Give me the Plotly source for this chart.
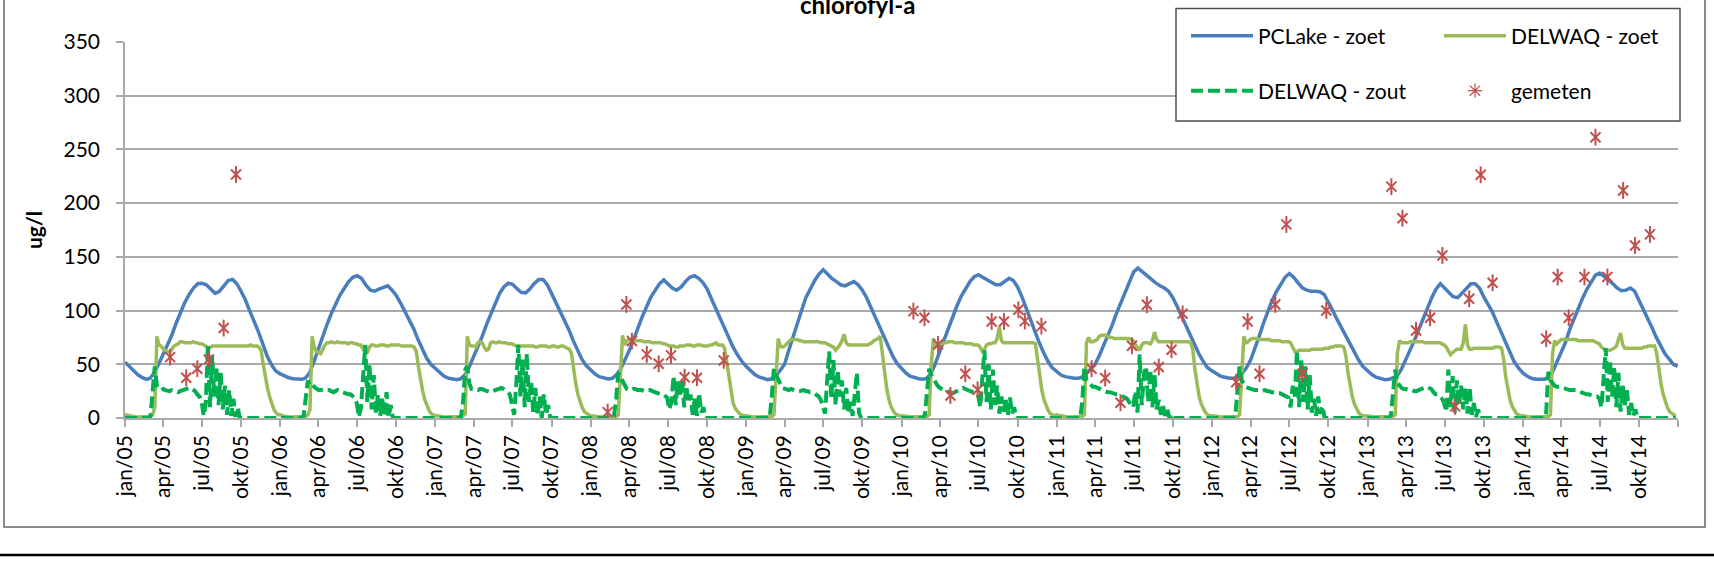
import datetime as dt
import plotly.graph_objects as go

# ---------------------------------------------------------------------------
# PCLake - zoet: chlorofyl-a (ug/l) on the 1st, 11th and 21st of every month
# (the 2014 list ends with an extra value for 31 December)
# ---------------------------------------------------------------------------
pclake_zoet_2005 = [52, 48, 44, 40, 37.5, 36, 37, 42, 50, 59, 67, 77, 88, 98, 107, 115, 121, 125,
                    125.5, 124, 120, 116, 118, 123, 128, 129, 125, 118, 110, 100, 90, 80, 69, 58, 50, 44]
pclake_zoet_2006 = [41, 39, 37.5, 36.5, 36, 36, 37, 42, 52, 65, 76, 87, 97, 106, 114, 121, 127, 131,
                    132.5, 130, 124, 119, 118, 120, 122, 123, 119, 114, 107, 99, 91, 83, 73, 64, 56, 50]
pclake_zoet_2007 = [46, 42, 39, 37, 36, 35.7, 36.5, 40, 47, 57, 66, 76, 87, 97, 106, 116, 122, 125.5,
                    124.5, 121, 117, 116.5, 120, 125, 129, 129, 124, 116, 108, 100, 91, 82, 72, 63, 55, 49]
pclake_zoet_2008 = [45, 41, 38.5, 37, 36.3, 37, 40, 45, 53, 63, 73, 84, 94, 103, 112, 119, 125, 128.5,
                    125, 121, 119, 122, 127, 131, 132.5, 130, 126, 120, 111, 102, 92, 83, 74, 66, 59, 53]
pclake_zoet_2009 = [48, 44, 40.5, 38, 36.5, 35.7, 36.5, 39, 44, 50, 63, 76, 88, 100, 112, 121, 128, 134,
                    138, 134, 130, 127, 124, 123, 125, 127, 124, 119, 112, 103, 94, 85, 76, 67, 58, 51]
pclake_zoet_2010 = [46, 42, 39, 37.5, 36.5, 36, 37, 41, 50, 62, 73, 84, 95, 104, 113, 121, 127, 131.5,
                    133.4, 131, 129, 126, 124, 124, 127, 130, 128, 122, 113, 102, 91, 81, 70, 61, 53, 47]
pclake_zoet_2011 = [43, 40, 38.5, 37.5, 37, 37, 38, 41, 45, 50, 58, 67, 75, 86, 97, 108, 118, 128,
                    136, 139.5, 136, 132, 129, 126, 123, 121, 118, 112, 104, 95, 86, 77, 68, 60, 53, 47]
pclake_zoet_2012 = [44, 41, 39, 38, 37, 37, 38, 41, 46, 54, 64, 76, 88, 99, 109, 118, 125, 131,
                    134.5, 131, 126, 121, 119, 118, 118, 117.5, 115, 108, 100, 92, 84, 76, 68, 61, 54, 48]
pclake_zoet_2013 = [44, 40.5, 38, 36.5, 35.7, 36, 37, 39, 45, 54, 62, 72, 82, 92, 101, 112, 120, 125,
                    121, 117, 113, 112, 116, 121, 125, 125, 121, 113, 106, 99, 89, 80, 70, 61, 53, 47]
pclake_zoet_2014 = [42, 39, 37, 36, 35.7, 36, 38, 42, 51, 60, 70, 82, 92, 102, 111, 120, 127, 133,
                    135, 132, 128.7, 125, 121, 118.5, 119, 121, 118, 110, 102, 93, 84, 75, 67, 60, 55, 50, 48]

# ---------------------------------------------------------------------------
# DELWAQ - zoet: values every 5 days from 1 January (73 per year)
# ---------------------------------------------------------------------------
delwaq_zoet_2005 = [3, 2.5, 2, 1.5, 1.5, 1, 1, 1, 1, 1, 1, 1, 1.5, 3,
                    10, 76, 68, 67,
                    64, 63, 62, 61, 64, 67,
                    68, 69, 71, 71, 70, 70, 70,
                    70, 71, 70, 70, 69, 69,
                    68, 67, 64, 66, 67, 67,
                    67, 67, 67, 67, 67, 67,
                    67, 67, 67, 67, 67, 67,
                    67, 67, 67, 67, 68, 67,
                    67, 67, 66, 63, 50, 38,
                    28, 20, 13, 8, 5, 3]
delwaq_zoet_2006 = [3, 2, 1.5, 1.5, 1, 1, 1, 1, 1, 1, 1, 1, 1.5, 3,
                    8, 76, 66, 62,
                    61, 60, 64, 68, 70, 70,
                    71, 70, 70, 71, 70, 70, 70,
                    70, 69, 70, 70, 69, 69,
                    68, 68, 64, 60, 61, 66,
                    68, 68, 67, 67, 68, 68,
                    68, 67, 67, 68, 68, 68,
                    68, 68, 67, 67, 67, 67,
                    67, 67, 66, 62, 48, 35,
                    25, 17, 11, 7, 4, 3]
delwaq_zoet_2007 = [2, 2, 1.5, 1.5, 1, 1, 1, 1, 1, 1, 1, 1, 1.5, 2, 4,
                    76, 68, 67,
                    67, 66, 70, 71, 70, 66,
                    63, 64, 70, 71, 70, 70, 71,
                    70, 70, 70, 69, 69, 69,
                    68, 67, 67, 67, 67, 67,
                    67, 67, 67, 67, 66, 66,
                    67, 67, 67, 67, 66, 66,
                    67, 67, 66, 66, 67, 67,
                    66, 65, 64, 60, 45, 32,
                    22, 15, 10, 6, 4, 3]
delwaq_zoet_2008 = [2, 2, 1.5, 1.5, 1, 1, 1, 1, 1, 1, 1, 1, 1.5, 3,
                    35, 77, 68, 72,
                    73, 73, 73, 72, 72, 72,
                    72, 71, 71, 71, 71, 70, 70,
                    70, 70, 70, 69, 69, 68,
                    67, 67, 67, 66, 66, 67,
                    67, 67, 68, 68, 68, 67,
                    67, 68, 68, 68, 67, 67,
                    67, 68, 68, 69, 70, 68,
                    68, 68, 65, 52, 35, 22,
                    14, 9, 6, 4, 3, 2]
delwaq_zoet_2009 = [2, 1.5, 1.5, 1, 1, 1, 1, 1, 1, 1, 1, 1, 1.5, 3,
                    35, 74, 67, 66,
                    67, 69, 71, 73, 73, 73,
                    73, 72, 72, 71, 71, 71, 71,
                    71, 71, 71, 71, 70, 70,
                    70, 69, 68, 67, 66, 63,
                    65, 68, 72, 78, 70, 68,
                    68, 68, 68, 68, 68, 68,
                    68, 68, 68, 69, 70, 72,
                    73, 74, 76, 60, 40, 28,
                    18, 11, 7, 4, 3, 2]
delwaq_zoet_2010 = [2, 2, 1.5, 1.5, 1, 1, 1, 1, 1, 1, 1, 1, 1.5, 3,
                    50, 74, 66, 67,
                    68, 69, 70, 70, 71, 71,
                    71, 70, 70, 70, 70, 70, 69,
                    69, 69, 69, 68, 68, 68,
                    66, 62, 64, 68, 69, 69,
                    70, 70, 74, 85, 72, 70,
                    70, 70, 70, 70, 70, 70,
                    70, 70, 70, 70, 70, 70,
                    70, 70, 69, 55, 38, 26,
                    17, 11, 7, 4, 3, 2]
delwaq_zoet_2011 = [3, 2, 2, 1.5, 1, 1, 1, 1, 1, 1, 1, 1, 1.5, 3,
                    70, 75, 71, 71,
                    72, 73, 76, 77, 77, 77,
                    76, 75, 75, 74, 74, 74, 74,
                    74, 74, 74, 74, 73, 72,
                    68, 65, 63, 68, 70, 70,
                    70, 69, 72, 80, 73, 71,
                    71, 71, 71, 71, 71, 71,
                    71, 71, 71, 71, 71, 71,
                    71, 71, 70, 64, 45, 30,
                    20, 13, 8, 5, 3, 2]
delwaq_zoet_2012 = [2, 2, 1.5, 1.5, 1, 1, 1, 1, 1, 1, 1, 1, 1.5, 3,
                    45, 76, 70, 71,
                    73, 74, 74, 74, 73, 73,
                    73, 73, 73, 73, 72, 72, 72,
                    72, 72, 71, 71, 71, 71,
                    70, 66, 62, 62, 63, 63,
                    63, 63, 63, 63, 64, 64,
                    64, 64, 64, 64, 65, 65,
                    65, 66, 66, 67, 67, 67,
                    67, 66, 58, 42, 30, 20,
                    13, 8, 5, 3, 2, 2]
delwaq_zoet_2013 = [2, 1.5, 1.5, 1, 1, 1, 1, 1, 1, 1, 1, 1, 1.5, 3,
                    60, 72, 70, 70,
                    70, 70, 71, 71, 71, 71,
                    71, 71, 71, 70, 70, 70, 70,
                    70, 70, 70, 70, 69, 68,
                    66, 62, 59, 61, 63, 64,
                    64, 64, 70, 87, 68, 64,
                    64, 65, 65, 65, 65, 65,
                    65, 65, 65, 65, 65, 66,
                    66, 66, 65, 55, 38, 26,
                    17, 11, 7, 4, 3, 2]
delwaq_zoet_2014 = [2, 1.5, 1.5, 1, 1, 1, 1, 1, 1, 1, 1, 1, 1.5, 3,
                    60, 72, 69, 71,
                    73, 73, 73, 73, 73, 73,
                    73, 73, 72, 72, 72, 72, 72,
                    72, 72, 72, 71, 70, 69,
                    66, 64, 63, 63, 63, 64,
                    65, 67, 72, 79, 68, 65,
                    65, 65, 65, 65, 65, 65,
                    65, 65, 66, 66, 67, 67,
                    67, 67, 60, 45, 32, 22,
                    15, 10, 6, 4, 3, 2]

# ---------------------------------------------------------------------------
# DELWAQ - zout: values every 5 days from 1 January (73 per year)
# ---------------------------------------------------------------------------
delwaq_zout_2005 = [0, 0, 0, 0, 0, 0, 0, 0, 0, 0, 0, 0,
                    2, 30, 48, 30, 27, 26,
                    27, 26, 25, 25, 26, 25,
                    24, 24, 25, 26, 27, 27, 28,
                    28, 27, 25, 22, 20, 16,
                    2, 14, 68, 10, 58, 20,
                    48, 12, 42, 8, 30, 3,
                    26, 2, 18, 1, 10, 0,
                    0, 0, 0, 0, 0, 0, 0, 0, 0, 0, 0, 0, 0, 0, 0, 0, 0, 0]
delwaq_zout_2006 = [0, 0, 0, 0, 0, 0, 0, 0, 0, 0, 0, 2,
                    20, 35, 30, 31, 29, 27,
                    26, 26, 27, 27, 26, 26,
                    25, 24, 25, 26, 25, 24, 23,
                    23, 22, 22, 21, 19, 14,
                    1, 10, 45, 68, 15, 50,
                    8, 40, 5, 22, 2, 18,
                    3, 24, 1, 12, 0, 0,
                    0, 0, 0, 0, 0, 0, 0, 0, 0, 0, 0, 0, 0, 0, 0, 0, 0, 0]
delwaq_zout_2007 = [0, 0, 0, 0, 0, 0, 0, 0, 0, 0, 0, 0,
                    1, 15, 45, 48, 32, 27,
                    27, 26, 26, 27, 27, 26,
                    25, 24, 24, 25, 26, 27, 28,
                    28, 27, 26, 24, 22, 12,
                    3, 30, 68, 20, 55, 10,
                    60, 15, 35, 5, 28, 2,
                    20, 0, 22, 3, 12, 0,
                    0, 0, 0, 0, 0, 0, 0, 0, 0, 0, 0, 0, 0, 0, 0, 0, 0, 0]
delwaq_zout_2008 = [0, 0, 0, 0, 0, 0, 0, 0, 0, 0, 0, 2,
                    18, 42, 38, 35, 30, 27,
                    26, 26, 27, 27, 26, 26,
                    26, 25, 25, 26, 26, 25, 24,
                    23, 23, 22, 22, 20, 19,
                    8, 15, 39, 12, 34, 20,
                    36, 10, 30, 14, 22, 3,
                    18, 2, 23, 5, 10, 0,
                    0, 0, 0, 0, 0, 0, 0, 0, 0, 0, 0, 0, 0, 0, 0, 0, 0, 0]
delwaq_zout_2009 = [0, 0, 0, 0, 0, 0, 0, 0, 0, 0, 0, 0,
                    20, 46, 40, 35, 32, 28,
                    27, 26, 26, 27, 26, 26,
                    25, 25, 26, 26, 25, 25, 24,
                    24, 23, 22, 20, 17, 12,
                    4, 30, 62, 18, 54, 12,
                    45, 20, 35, 8, 28, 4,
                    15, 2, 26, 42, 5, 0,
                    0, 0, 0, 0, 0, 0, 0, 0, 0, 0, 0, 0, 0, 0, 0, 0, 0, 0]
delwaq_zout_2010 = [0, 0, 0, 0, 0, 0, 0, 0, 0, 0, 0, 3,
                    25, 46, 40, 36, 34, 30,
                    28, 27, 26, 25, 24, 23,
                    23, 24, 25, 26, 27, 28, 27,
                    26, 25, 24, 23, 23, 22,
                    10, 40, 63, 15, 50, 8,
                    45, 12, 30, 4, 20, 6,
                    18, 2, 19, 4, 10, 0,
                    0, 0, 0, 0, 0, 0, 0, 0, 0, 0, 0, 0, 0, 0, 0, 0, 0, 0]
delwaq_zout_2011 = [0, 0, 0, 0, 0, 0, 0, 0, 0, 0, 0, 0,
                    15, 48, 35, 33, 31, 29,
                    29, 28, 28, 27, 26, 25,
                    24, 24, 23, 23, 22, 22, 21,
                    20, 20, 18, 15, 12, 10,
                    25, 5, 59, 12, 40, 48,
                    15, 45, 10, 40, 8, 17,
                    3, 11, 2, 8, 0, 4,
                    0, 0, 0, 0, 0, 0, 0, 0, 0, 0, 0, 0, 0, 0, 0, 0, 0, 0]
delwaq_zout_2012 = [0, 0, 0, 0, 0, 0, 0, 0, 0, 0, 0, 2,
                    25, 48, 35, 31, 29, 28,
                    27, 27, 26, 26, 26, 25,
                    26, 26, 25, 25, 24, 24, 24,
                    23, 23, 22, 21, 20, 19,
                    10, 30, 20, 63, 10, 54,
                    15, 48, 8, 40, 5, 18,
                    2, 20, 4, 11, 0, 0,
                    0, 0, 0, 0, 0, 0, 0, 0, 0, 0, 0, 0, 0, 0, 0, 0, 0, 0]
delwaq_zout_2013 = [0, 0, 0, 0, 0, 0, 0, 0, 0, 0, 0, 3,
                    30, 45, 33, 30, 28, 27,
                    27, 26, 26, 26, 25, 25,
                    26, 27, 28, 29, 29, 28, 27,
                    24, 22, 22, 20, 18, 14,
                    6, 45, 10, 39, 5, 35,
                    12, 30, 8, 28, 4, 29,
                    3, 14, 1, 8, 0, 0,
                    0, 0, 0, 0, 0, 0, 0, 0, 0, 0, 0, 0, 0, 0, 0, 0, 0, 0]
delwaq_zout_2014 = [0, 0, 0, 0, 0, 0, 0, 0, 0, 0, 0, 5,
                    43, 35, 32, 30, 29, 29,
                    29, 28, 27, 27, 26, 26,
                    26, 26, 25, 24, 23, 22, 22,
                    22, 21, 21, 20, 20, 18,
                    10, 40, 65, 15, 54, 20,
                    48, 10, 42, 6, 30, 12,
                    26, 3, 14, 2, 8, 0,
                    0, 0, 0, 0, 0, 0, 0, 0, 0, 0, 0, 0, 0, 0, 0, 0, 0, 0]

# ---------------------------------------------------------------------------
# gemeten: measured chlorofyl-a
# ---------------------------------------------------------------------------
gemeten_datum = [
    "2005-04-17", "2005-05-25", "2005-06-20", "2005-07-17", "2005-08-21", "2005-09-19",
    "2008-02-10", "2008-03-25", "2008-04-07", "2008-05-12", "2008-06-09", "2008-07-08",
    "2008-08-09", "2008-09-07", "2008-11-09",
    "2010-01-29", "2010-02-24", "2010-03-28", "2010-04-26", "2010-05-31", "2010-06-29",
    "2010-08-01", "2010-08-30", "2010-10-03", "2010-10-18", "2010-11-26",
    "2011-03-24", "2011-04-25", "2011-05-31", "2011-06-27", "2011-08-01", "2011-08-29",
    "2011-09-28", "2011-10-24",
    "2012-02-27", "2012-03-25", "2012-04-22", "2012-05-29", "2012-06-24", "2012-08-01",
    "2012-09-26",
    "2013-02-26", "2013-03-24", "2013-04-25", "2013-05-28", "2013-06-26", "2013-07-26",
    "2013-08-28", "2013-09-24", "2013-10-22",
    "2014-02-25", "2014-03-24", "2014-04-19", "2014-05-26", "2014-06-21", "2014-07-19",
    "2014-08-25", "2014-09-22", "2014-10-27",
]
gemeten_waarde = [
    56.7, 37.5, 45.9, 54.5, 83.7, 226.7,
    5.5, 105.7, 71.6, 59.2, 50.5, 58.3,
    38, 37.5, 53.6,
    99.5, 93.3, 68.5, 21, 41.2, 26.3,
    89.9, 89.9, 100.8, 90.2, 85.5,
    45.9, 37.2, 14.2, 67.3, 105.4, 47.4,
    63.5, 97,
    33.4, 89.9, 41.2, 105.7, 180.2, 41.2,
    100.1,
    215.4, 186, 81.5, 93.3, 151.3, 10.8,
    111, 226.4, 125.9,
    73.8, 131.2, 93.3, 131.2, 261.4, 131.2,
    211.8, 160.6, 170.9,
]

years = list(range(2005, 2015))
month_labels = ["jan", "apr", "jul", "okt"]

pclake_zoet_by_year = [pclake_zoet_2005, pclake_zoet_2006, pclake_zoet_2007, pclake_zoet_2008,
                       pclake_zoet_2009, pclake_zoet_2010, pclake_zoet_2011, pclake_zoet_2012,
                       pclake_zoet_2013, pclake_zoet_2014]
delwaq_zoet_by_year = [delwaq_zoet_2005, delwaq_zoet_2006, delwaq_zoet_2007, delwaq_zoet_2008,
                       delwaq_zoet_2009, delwaq_zoet_2010, delwaq_zoet_2011, delwaq_zoet_2012,
                       delwaq_zoet_2013, delwaq_zoet_2014]
delwaq_zout_by_year = [delwaq_zout_2005, delwaq_zout_2006, delwaq_zout_2007, delwaq_zout_2008,
                       delwaq_zout_2009, delwaq_zout_2010, delwaq_zout_2011, delwaq_zout_2012,
                       delwaq_zout_2013, delwaq_zout_2014]


def dekad_dates(year, n):
    days = [dt.date(year, m, d) for m in range(1, 13) for d in (1, 11, 21)]
    if n > len(days):
        days.append(dt.date(year, 12, 31))
    return days


def pentad_dates(year, n):
    start = dt.date(year, 1, 1)
    return [start + dt.timedelta(days=5 * k) for k in range(n)]


def join_series(by_year, date_fn):
    xs, ys = [], []
    for yr, vals in zip(years, by_year):
        xs += date_fn(yr, len(vals))
        ys += vals
    return xs, ys


x_pc, y_pc = join_series(pclake_zoet_by_year, dekad_dates)
x_dz, y_dz = join_series(delwaq_zoet_by_year, pentad_dates)
x_ds, y_ds = join_series(delwaq_zout_by_year, pentad_dates)

tick_vals = [dt.date(y, m, 1) for y in years for m in (1, 4, 7, 10)] + [dt.date(2015, 1, 1)]
tick_text = [f"{lab}/{str(y)[2:]}" for y in years for lab in month_labels] + [""]

# ---------------------------------------------------------------------------
# page geometry (pixels)
# ---------------------------------------------------------------------------
W, H = 1714, 582
ML, MR, MT, MB = 125, 36, 42, 164
PW, PH = W - ML - MR, H - MT - MB


def px_x(px):
    return (px - ML) / PW


def px_y(py):
    return (H - MB - py) / PH


FONT = "Lato"
GRID = "#a9a9a9"
BLUE = "#4A7EBB"
LIGHT_GREEN = "#9BBB59"
GREEN = "#00B050"
RED = "#C0504D"

fig = go.Figure()

fig.add_trace(go.Scatter(x=x_pc, y=y_pc, mode="lines", name="PCLake - zoet",
                         line=dict(color=BLUE, width=3.5), legend="legend"))
fig.add_trace(go.Scatter(x=x_dz, y=y_dz, mode="lines", name="DELWAQ - zoet",
                         line=dict(color=LIGHT_GREEN, width=3.5), legend="legend"))
fig.add_trace(go.Scatter(x=x_ds, y=y_ds, mode="lines", name="DELWAQ - zout",
                         line=dict(color=GREEN, width=4, dash="12px,5px"), legend="legend2"))
# star markers: diagonal cross plus a vertical stroke
fig.add_trace(go.Scatter(x=gemeten_datum, y=gemeten_waarde, mode="markers", name="gemeten",
                         marker=dict(symbol="x-thin-open", size=10, color=RED,
                                     line=dict(color=RED, width=2)),
                         showlegend=False))
fig.add_trace(go.Scatter(x=gemeten_datum, y=gemeten_waarde, mode="markers", name="gemeten",
                         marker=dict(symbol="line-ns-open", size=12, color=RED,
                                     line=dict(color=RED, width=2)),
                         showlegend=False))
fig.add_trace(go.Scatter(x=[None], y=[None], mode="markers", name="gemeten",
                         marker=dict(symbol="asterisk-open", size=12, color=RED,
                                     line=dict(color=RED, width=1.2)),
                         legend="legend2"))

legend_style = dict(orientation="h", font=dict(family=FONT, size=21, color="#000000"),
                    bgcolor="rgba(0,0,0,0)", borderwidth=0, itemwidth=62,
                    entrywidth=176, entrywidthmode="pixels",
                    xanchor="left", yanchor="middle", tracegroupgap=0)

fig.update_layout(
    width=W, height=H,
    margin=dict(l=ML, r=MR, t=MT, b=MB, autoexpand=False),
    paper_bgcolor="white", plot_bgcolor="white",
    font=dict(family=FONT, size=21, color="#000000"),
    legend=dict(**legend_style, x=px_x(1186), y=px_y(36)),
    legend2=dict(**legend_style, x=px_x(1186), y=px_y(91)),
    xaxis=dict(type="date", range=["2005-01-01", "2015-01-01"],
               tickmode="array", tickvals=tick_vals, ticktext=tick_text, tickangle=-90,
               ticks="outside", ticklen=7, tickcolor=GRID, tickwidth=1.5,
               showline=True, linecolor=GRID, linewidth=1.5, showgrid=False, zeroline=False,
               tickfont=dict(family=FONT, size=21, color="#000000")),
    yaxis=dict(range=[0, 350], tickvals=[0, 50, 100, 150, 200, 250, 300, 350],
               ticks="outside", ticklen=7, tickcolor=GRID, tickwidth=1.5,
               showline=True, linecolor=GRID, linewidth=1.5,
               showgrid=True, gridcolor=GRID, gridwidth=1.5, zeroline=False,
               ticklabelstandoff=12,
               tickfont=dict(family=FONT, size=21, color="#000000")),
    shapes=[
        # chart area border
        dict(type="rect", xref="paper", yref="paper",
             x0=px_x(4), x1=px_x(1705), y0=px_y(527), y1=px_y(-10),
             line=dict(color="#8c8c8c", width=2), fillcolor="rgba(0,0,0,0)", layer="below"),
        # legend box
        dict(type="rect", xref="paper", yref="paper",
             x0=px_x(1176), x1=px_x(1680), y0=px_y(121), y1=px_y(8.5),
             line=dict(color="#4d4d4d", width=1.5), fillcolor="white", layer="above"),
        # rule below the chart
        dict(type="line", xref="paper", yref="paper",
             x0=px_x(0), x1=px_x(W), y0=px_y(555), y1=px_y(555),
             line=dict(color="#000000", width=2.5)),
    ],
    annotations=[
        dict(text="<b>chlorofyl-a</b>", xref="paper", yref="paper",
             x=px_x(857), y=px_y(-12), xanchor="center", yanchor="top", showarrow=False,
             font=dict(family=FONT, size=24, color="#000000")),
        dict(text="<b>ug/l</b>", xref="paper", yref="paper", textangle=-90,
             x=px_x(33), y=px_y(230), xanchor="center", yanchor="middle", showarrow=False,
             font=dict(family=FONT, size=21, color="#000000")),
    ],
)

fig.write_html("out.html")
